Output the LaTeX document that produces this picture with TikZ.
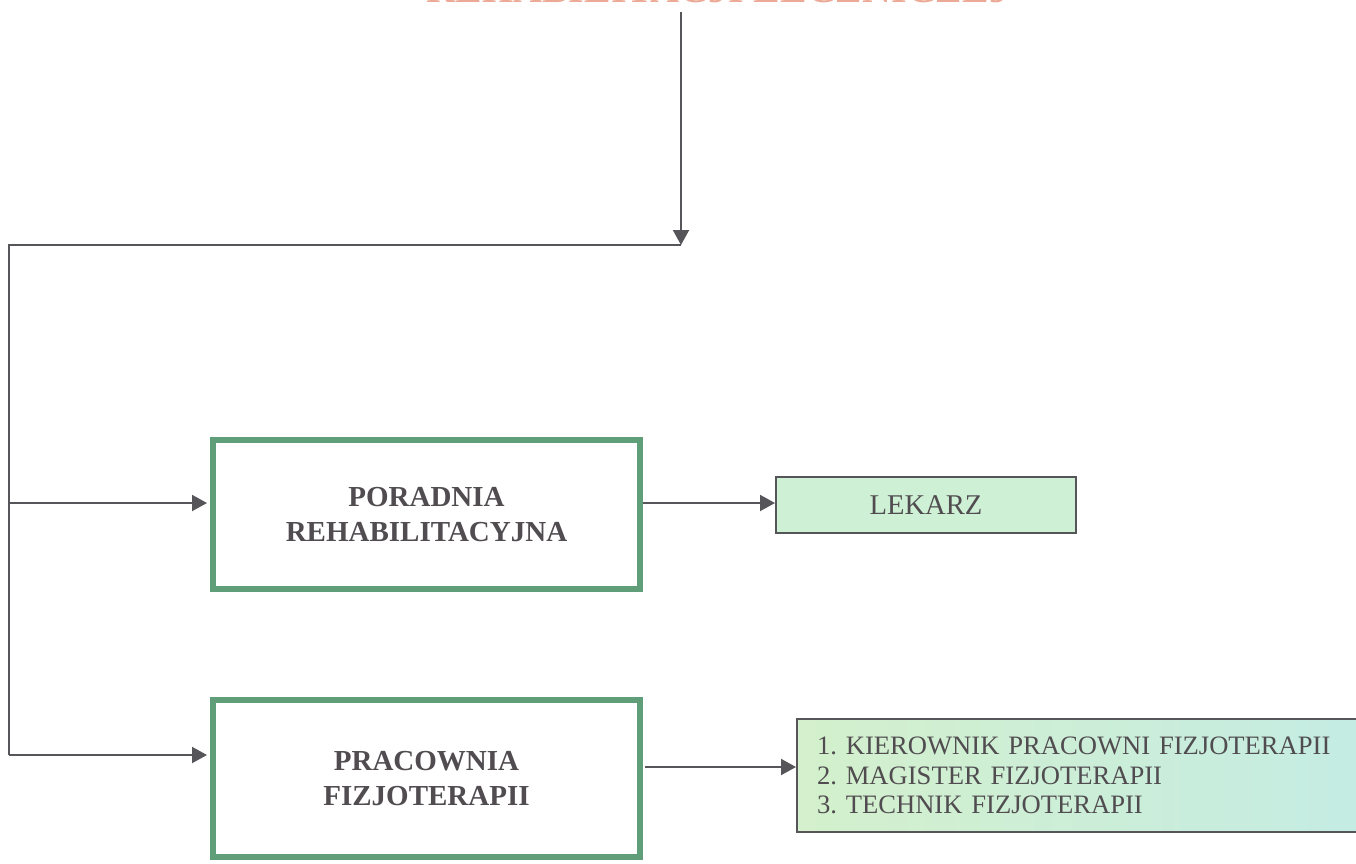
\documentclass[tikz,border=0pt]{standalone}
\usepackage{fontspec}
\setmainfont{Liberation Serif}
\usetikzlibrary{arrows.meta}
\frenchspacing
\definecolor{lineg}{RGB}{85,85,90}
\definecolor{boxgreen}{RGB}{95,158,120}
\definecolor{txtg}{RGB}{80,76,80}
\definecolor{lekfill}{RGB}{206,240,212}
\definecolor{listl}{RGB}{212,240,204}
\definecolor{listr}{RGB}{196,236,228}
\definecolor{titlec}{RGB}{236,170,150}
\tikzset{
  conn/.style={draw=lineg, line width=2pt},
  arr/.style={conn, -{Triangle[length=15pt,width=16pt]}},
  mainbox/.style={draw=boxgreen, line width=6pt, fill=white, align=center,
    text=txtg, font=\fontsize{29}{35}\selectfont\bfseries},
  subbox/.style={draw=lineg, line width=2pt, text=txtg},
}
\begin{document}
\begin{tikzpicture}[x=1pt,y=-1pt]
\useasboundingbox (0,0) rectangle (1356,863);
% title (cut off at the top edge, as in the reference)
\node[anchor=base, text=titlec, font=\fontsize{40}{40}\selectfont\bfseries, inner sep=0pt] (title) at (718,2) {REHABILITACJI LECZNICZEJ};
% boxes
\node[mainbox, minimum width=427pt, minimum height=149pt] (b1) at (426.5,514.5) {PORADNIA\\REHABILITACYJNA};
\node[mainbox, minimum width=427pt, minimum height=157pt] (b2) at (426.5,778.5) {PRACOWNIA\\FIZJOTERAPII};
\node[subbox, fill=lekfill, minimum width=300pt, minimum height=56pt,
  font=\fontsize{28.6}{30}\selectfont] (lek) at (926,505) {LEKARZ};
\node[subbox, left color=listl, right color=listr, minimum width=583pt, minimum height=113pt,
  text width=543pt, inner xsep=20pt, align=left,
  font=\fontsize{26.6}{29.5}\selectfont] (list) at (1088.5,775.5)
  {1. KIEROWNIK PRACOWNI FIZJOTERAPII\\2. MAGISTER FIZJOTERAPII\\3. TECHNIK FIZJOTERAPII};
% connector points
\coordinate (top) at (681,12);
\coordinate (corner) at (681,245);
\coordinate (tl) at (9,245);
\coordinate (j1) at (9,503);
\coordinate (j2) at (9,755);
\coordinate (o1) at (643,503);
\coordinate (o2) at (645,767);
% connectors
\draw[arr] (top) -- (corner);
\draw[conn] (corner) -- (tl) -- (j2);
\draw[arr, shorten >=3pt] (j1) -- (j1 -| b1.west);
\draw[arr, shorten >=3pt] (j2) -- (j2 -| b2.west);
\draw[arr] (o1) -- (o1 -| lek.west);
\draw[arr] (o2) -- (o2 -| list.west);
\end{tikzpicture}
\end{document}
